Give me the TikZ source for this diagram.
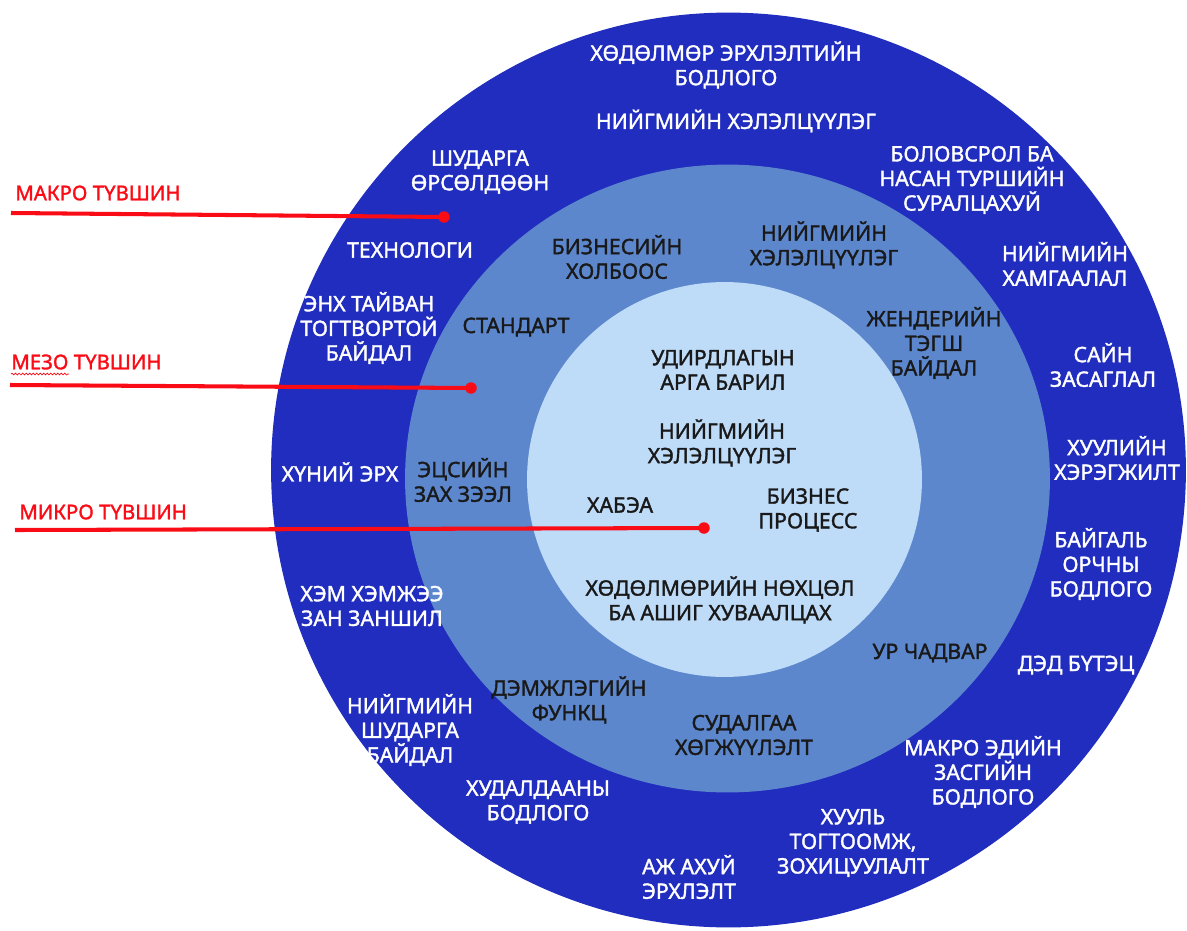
\documentclass[tikz,border=0pt]{standalone}
\usepackage{fontspec}
\setmainfont{Noto Sans}[AutoFakeBold=1.6]
\usepackage{xcolor}
\usepackage{tikz}
\usetikzlibrary{positioning}
\usetikzlibrary{decorations.pathmorphing}

\definecolor{macroblue}{RGB}{32,45,190}
\definecolor{mesoblue}{RGB}{92,135,205}
\definecolor{microblue}{RGB}{190,219,248}
\definecolor{levelred}{RGB}{250,12,22}

\tikzset{
	ringtext/.style={align=center, inner sep=0pt, font=\bfseries\fontsize{12.1}{14}\selectfont},
	macrotext/.style={ringtext, text=white},
	innertext/.style={ringtext, text=black!90},
	leveltext/.style={anchor=west, inner sep=0pt, text=levelred, font=\bfseries\fontsize{11.6}{14}\selectfont},
	levelline/.style={draw=levelred, line width=2.3pt},
	leveldot/.style={circle, fill=levelred, inner sep=0pt, minimum size=0.23cm}
}

\begin{document}
\begin{tikzpicture}[x=0.02cm, y=-0.02cm]
	\useasboundingbox (0,0) rectangle (1187,930);
	
	\fill [macroblue] (728.5,470) circle [radius=9.15cm];
	\fill [mesoblue] (727.5,478.5) ellipse [x radius=6.45cm, y radius=6.28cm];
	\fill [microblue] (724.5,479.5) circle [radius=3.95cm];
	
	% outer ring
	\node [macrotext] (labour) at (726,65) {ХӨДӨЛМӨР ЭРХЛЭЛТИЙН\\БОДЛОГО};
	\node [macrotext] (dialogue) at (736,121) {НИЙГМИЙН ХЭЛЭЛЦҮҮЛЭГ};
	\node [macrotext] (education) at (972,180) {БОЛОВСРОЛ БА\\НАСАН ТУРШИЙН\\СУРАЛЦАХУЙ};
	\node [macrotext] (protection) at (1065,264) {НИЙГМИЙН\\ХАМГААЛАЛ};
	\node [macrotext] (governance) at (1103,365) {САЙН\\ЗАСАГЛАЛ};
	\node [macrotext] (enforcement) at (1117,458) {ХУУЛИЙН\\ХЭРЭГЖИЛТ};
	\node [macrotext] (environment) at (1101,564) {БАЙГАЛЬ\\ОРЧНЫ\\БОДЛОГО};
	\node [macrotext] (infrastructure) at (1076,665) {ДЭД БҮТЭЦ};
	\node [macrotext] (macroeconomy) at (983,772) {МАКРО ЭДИЙН\\ЗАСГИЙН\\БОДЛОГО};
	\node [macrotext] (legislation) at (853,843) {ХУУЛЬ\\ТОГТООМЖ,\\ЗОХИЦУУЛАЛТ};
	\node [macrotext] (enterprise) at (689,877) {АЖ АХУЙ\\ЭРХЛЭЛТ};
	\node [macrotext] (trade) at (538,802) {ХУДАЛДААНЫ\\БОДЛОГО};
	\node [macrotext] (justice) at (410,730) {НИЙГМИЙН\\ШУДАРГА\\БАЙДАЛ};
	\node [macrotext] (norms) at (372,606) {ХЭМ ХЭМЖЭЭ\\ЗАН ЗАНШИЛ};
	\node [macrotext] (rights) at (340,472) {ХҮНИЙ ЭРХ};
	\node [macrotext] (peace) at (369,328) {ЭНХ ТАЙВАН\\ТОГТВОРТОЙ\\БАЙДАЛ};
	\node [macrotext] (technology) at (410,250) {ТЕХНОЛОГИ};
	\node [macrotext] (competition) at (480,172) {ШУДАРГА\\ӨРСӨЛДӨӨН};
	
	% middle ring
	\node [innertext] (links) at (617,257) {БИЗНЕСИЙН\\ХОЛБООС};
	\node [innertext] (mesodialogue) at (824,245) {НИЙГМИЙН\\ХЭЛЭЛЦҮҮЛЭГ};
	\node [innertext] (gender) at (934,343) {ЖЕНДЕРИЙН\\ТЭГШ\\БАЙДАЛ};
	\node [innertext] (standard) at (516,327) {СТАНДАРТ};
	\node [innertext] (market) at (463,480) {ЭЦСИЙН\\ЗАХ ЗЭЭЛ};
	\node [innertext] (support) at (569,700) {ДЭМЖЛЭГИЙН\\ФУНКЦ};
	\node [innertext] (research) at (744,735) {СУДАЛГАА\\ХӨГЖҮҮЛЭЛТ};
	\node [innertext] (skills) at (930,653) {УР ЧАДВАР};
	
	% inner circle
	\node [innertext] (management) at (723,370) {УДИРДЛАГЫН\\АРГА БАРИЛ};
	\node [innertext] (microdialogue) at (722,443) {НИЙГМИЙН\\ХЭЛЭЛЦҮҮЛЭГ};
	\node [innertext] (safety) at (620,505) {ХАБЭА};
	\node [innertext] (process) at (808,510) {БИЗНЕС\\ПРОЦЕСС};
	\node [innertext] (conditions) at (720,600) {ХӨДӨЛМӨРИЙН НӨХЦӨЛ\\БА АШИГ ХУВААЛЦАХ};
	
	% levels
	\node [leveltext] (macro) at (15,193) {МАКРО ТҮВШИН};
	\node [leveltext] (meso) at (11,362) {МЕЗО ТҮВШИН};
	\node [leveltext] (micro) at (19,512) {МИКРО ТҮВШИН};
	\draw [levelred, line width=0.4pt, decorate, decoration={snake, amplitude=0.5pt, segment length=2pt}] (11,374) -- (69,374);
	
	\coordinate (macrostart) at (11,213);
	\coordinate (mesostart) at (10,385);
	\coordinate (microstart) at (15,530);
	\node [leveldot] (macrodot) at (444,217) {};
	\node [leveldot] (mesodot) at (471,388) {};
	\node [leveldot] (microdot) at (704,528) {};
	\draw [levelline] (macrostart) -- (macrodot.center);
	\draw [levelline] (mesostart) -- (mesodot.center);
	\draw [levelline] (microstart) -- (microdot.center);
\end{tikzpicture}
\end{document}
